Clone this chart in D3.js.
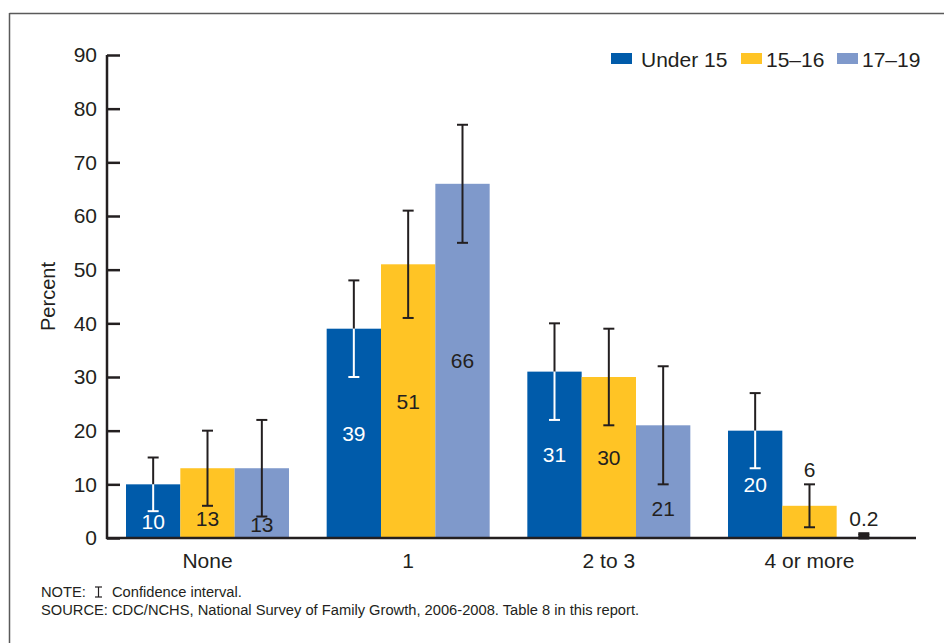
<!DOCTYPE html>
<html>
<head>
<meta charset="utf-8">
<script src="https://cdn.jsdelivr.net/npm/d3@7"></script>
<style>
  html, body { margin: 0; padding: 0; background: #fff; }
  svg { display: block; font-family: "Liberation Sans", Arial, sans-serif; }
</style>
</head>
<body>
<svg id="chart" width="944" height="643"></svg>
<script>
// ---- data ----
const categories = ["None", "1", "2 to 3", "4 or more"];
const seriesNames = ["Under 15", "15\u201316", "17\u201319"];
const under15 = [10, 39, 31, 20];
const age1516 = [13, 51, 30, 6];
const age1719 = [13, 66, 21, 0.2];
const under15Low = [5, 30, 22, 13];
const under15High = [15, 48, 40, 27];
const age1516Low = [6, 41, 21, 2];
const age1516High = [20, 61, 39, 10];
const age1719Low = [4, 55, 10, 0];
const age1719High = [22, 77, 32, 0.8];
const yTicks = [0, 10, 20, 30, 40, 50, 60, 70, 80, 90];

const colors = ["#005BAA", "#FFC425", "#7F99CB"];
const labelColors = ["#ffffff", "#231F20", "#231F20"];
const dark = "#231F20";

const seriesVals = [under15, age1516, age1719];
const seriesLow = [under15Low, age1516Low, age1719Low];
const seriesHigh = [under15High, age1516High, age1719High];

const rows = [];
categories.forEach((c, i) => {
  seriesNames.forEach((s, j) => {
    rows.push({cat: c, series: s, si: j, v: seriesVals[j][i], lo: seriesLow[j][i], hi: seriesHigh[j][i]});
  });
});

const svg = d3.select("#chart");

// frame
svg.append("line").attr("x1", 9.5).attr("x2", 944).attr("y1", 13.5).attr("y2", 13.5)
  .attr("stroke", "#5a5a5a").attr("stroke-width", 1.5);
svg.append("line").attr("x1", 9.5).attr("x2", 9.5).attr("y1", 13).attr("y2", 643)
  .attr("stroke", "#5a5a5a").attr("stroke-width", 1.5);

const x0 = d3.scaleBand().domain(categories).range([107, 910]).paddingInner(0.1877).paddingOuter(0.0947);
const x1 = d3.scaleBand().domain(seriesNames).range([0, x0.bandwidth()]);
const y = d3.scaleLinear().domain([0, 90]).range([538, 55]);

// bars
const g = svg.append("g");
g.selectAll("rect.bar").data(rows).enter().append("rect")
  .attr("class", "bar")
  .attr("x", d => x0(d.cat) + x1(d.series))
  .attr("width", x1.bandwidth())
  .attr("y", d => y(d.v))
  .attr("height", d => y(0) - y(d.v))
  .attr("fill", d => colors[d.si]);

// error bars
const capW = 11;
rows.forEach(d => {
  const cx = x0(d.cat) + x1(d.series) + x1.bandwidth() / 2;
  const inside = d.si === 0;
  if (!inside) {
    g.append("line").attr("x1", cx).attr("x2", cx).attr("y1", y(d.hi)).attr("y2", y(d.lo))
      .attr("stroke", dark).attr("stroke-width", 2);
  } else {
    if (d.hi > d.v) {
      g.append("line").attr("x1", cx).attr("x2", cx).attr("y1", y(d.hi)).attr("y2", y(Math.max(d.v, d.lo)))
        .attr("stroke", dark).attr("stroke-width", 2);
    }
    if (d.lo < d.v) {
      g.append("line").attr("x1", cx).attr("x2", cx).attr("y1", y(Math.min(d.v, d.hi))).attr("y2", y(d.lo))
        .attr("stroke", "#fff").attr("stroke-width", 2);
    }
  }
  const small = (d.hi - d.lo) < 2;
  [d.hi, d.lo].forEach(val => {
    const col = (inside && val <= d.v) ? "#fff" : dark;
    g.append("line").attr("x1", cx - capW / 2).attr("x2", cx + capW / 2)
      .attr("y1", y(val)).attr("y2", y(val))
      .attr("stroke", col).attr("stroke-width", small ? 3 : 2);
  });
  if (small) {
    g.append("rect").attr("x", cx - capW / 2).attr("width", capW)
      .attr("y", y(d.hi)).attr("height", y(d.lo) - y(d.hi)).attr("fill", dark);
  }
});

// value labels
rows.forEach(d => {
  const cx = x0(d.cat) + x1(d.series) + x1.bandwidth() / 2;
  let yc, col;
  if (d.v < 8) {
    yc = y(d.hi) - 15;
    col = dark;
  } else {
    let m = d.v / 2;
    if (m > d.lo - 2.5) m = d.lo / 2 + 0.6;
    yc = y(m);
    col = labelColors[d.si];
  }
  g.append("text").attr("x", cx).attr("y", yc).attr("dy", "0.36em")
    .attr("text-anchor", "middle").attr("font-size", 21).attr("fill", col)
    .text(d.v);
});

// y axis
const yAxis = d3.axisLeft(y).tickValues(yTicks).tickSize(-13).tickPadding(10).tickFormat(d3.format("d"));
const ya = svg.append("g").attr("transform", "translate(107,0)").call(yAxis);
ya.select(".domain").attr("stroke", dark).attr("stroke-width", 2.5).attr("d", `M0,${y(90)}V${y(0) + 1}`);
ya.selectAll(".tick line").attr("stroke", dark).attr("stroke-width", 2.5);
ya.selectAll(".tick text").attr("font-size", 21).attr("fill", dark).attr("font-family", "Liberation Sans, Arial, sans-serif");

// x axis
const xAxis = d3.axisBottom(x0).tickSize(0).tickPadding(15);
const xa = svg.append("g").attr("transform", `translate(0,${y(0)})`).call(xAxis);
xa.select(".domain").remove();
xa.selectAll(".tick text").attr("font-size", 21).attr("fill", dark).attr("font-family", "Liberation Sans, Arial, sans-serif");
svg.append("line").attr("x1", 106).attr("x2", x0.range()[1] + 6).attr("y1", y(0)).attr("y2", y(0))
  .attr("stroke", dark).attr("stroke-width", 2.5);

// y title
svg.append("text").attr("transform", `translate(55,${(y(0) + y(90)) / 2}) rotate(-90)`)
  .attr("text-anchor", "middle").attr("font-size", 20).attr("fill", dark).text("Percent");

// legend
const legendX = [611, 741, 837];
seriesNames.forEach((s, j) => {
  svg.append("rect").attr("x", legendX[j]).attr("y", 53).attr("width", 21).attr("height", 11).attr("fill", colors[j]);
  svg.append("text").attr("x", legendX[j] + (j === 0 ? 30 : 25)).attr("y", 59).attr("dy", "0.36em")
    .attr("font-size", 21).attr("fill", dark).text(s);
});

// notes
const noteG = svg.append("g").attr("font-size", 14.7).attr("fill", dark);
noteG.append("text").attr("x", 41).attr("y", 597).text("NOTE:");
const gx = 98.5;
noteG.append("line").attr("x1", gx).attr("x2", gx).attr("y1", 587).attr("y2", 597).attr("stroke", dark).attr("stroke-width", 1.2);
noteG.append("line").attr("x1", gx - 3.5).attr("x2", gx + 3.5).attr("y1", 587).attr("y2", 587).attr("stroke", dark).attr("stroke-width", 1.2);
noteG.append("line").attr("x1", gx - 3.5).attr("x2", gx + 3.5).attr("y1", 597).attr("y2", 597).attr("stroke", dark).attr("stroke-width", 1.2);
noteG.append("text").attr("x", 112).attr("y", 597).text("Confidence interval.");
noteG.append("text").attr("x", 41).attr("y", 615).text("SOURCE: CDC/NCHS, National Survey of Family Growth, 2006-2008. Table 8 in this report.");
</script>
</body>
</html>
